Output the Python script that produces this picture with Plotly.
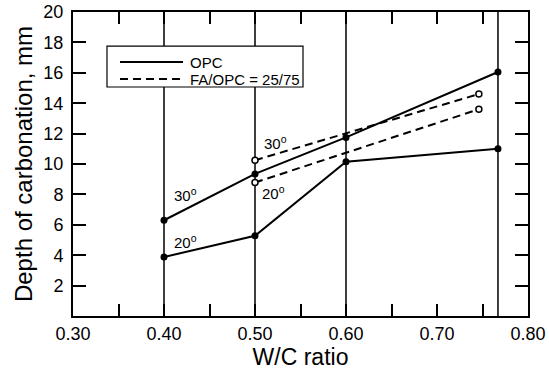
import plotly.graph_objects as go

# Data
wc_opc = [0.40, 0.50, 0.60, 0.767]
opc_30 = [6.3, 9.35, 11.75, 16.05]
opc_20 = [3.88, 5.28, 10.15, 11.0]

wc_fa = [0.50, 0.746]
fa_30 = [10.25, 14.6]
fa_20 = [8.78, 13.6]

drop_x = [0.40, 0.50, 0.60, 0.767]

label_x = [0.424, 0.424, 0.522, 0.520]
label_y = [7.99, 4.88, 11.4, 8.1]
label_text = ["30<sup>o</sup>", "20<sup>o</sup>", "30<sup>o</sup>", "20<sup>o</sup>"]

legend_names = ["OPC", "FA/OPC = 25/75"]
legend_dash = ["solid", "8px,5px"]

y_ticks = [2, 4, 6, 8, 10, 12, 14, 16, 18, 20]

FONT = "Liberation Sans, Arial, Helvetica, sans-serif"
DASH = "8px,5px"

fig = go.Figure()

filled = dict(symbol="circle", size=7, color="black")
opened = dict(symbol="circle", size=6, color="white", line=dict(color="black", width=1.5))

fig.add_trace(go.Scatter(x=wc_opc, y=opc_30, mode="lines+markers", name="OPC 30°",
                         line=dict(color="black", width=2), marker=filled))
fig.add_trace(go.Scatter(x=wc_opc, y=opc_20, mode="lines+markers", name="OPC 20°",
                         line=dict(color="black", width=2), marker=filled))
fig.add_trace(go.Scatter(x=wc_fa, y=fa_30, mode="lines+markers", name="FA/OPC 30°",
                         line=dict(color="black", width=2, dash=DASH), marker=opened))
fig.add_trace(go.Scatter(x=wc_fa, y=fa_20, mode="lines+markers", name="FA/OPC 20°",
                         line=dict(color="black", width=2, dash=DASH), marker=opened))

for xv in drop_x:
    fig.add_shape(type="line", x0=xv, x1=xv, y0=0, y1=1, xref="x", yref="paper",
                  line=dict(color="black", width=1.5), layer="below")

for lx, ly, lt in zip(label_x, label_y, label_text):
    fig.add_annotation(x=lx, y=ly, text=lt, showarrow=False,
                       font=dict(size=15, color="black", family=FONT))

# Legend box (drawn by hand to match the original's proportions)
fig.add_shape(type="rect", xref="paper", yref="paper",
              x0=0.0747, x1=0.5055, y0=0.7533, y1=0.888,
              fillcolor="white", line=dict(color="black", width=1.2), layer="above")
legend_rows = [0.8355, 0.7796]
for name, dash, ry in zip(legend_names, legend_dash, legend_rows):
    fig.add_shape(type="line", xref="paper", yref="paper",
                  x0=0.1033, x1=0.2418, y0=ry, y1=ry,
                  line=dict(color="black", width=2, dash=dash), layer="above")
    fig.add_annotation(xref="paper", yref="paper", x=0.2527, y=ry, text=name,
                       xanchor="left", yanchor="middle", showarrow=False,
                       font=dict(size=15, color="black", family=FONT))

fig.update_layout(
    width=549, height=376,
    margin=dict(l=73, r=21, t=12, b=60, autoexpand=False),
    paper_bgcolor="white", plot_bgcolor="white",
    font=dict(family=FONT, color="black"),
    showlegend=False,
)

fig.update_xaxes(range=[0.30, 0.80], tick0=0.30, dtick=0.1, tickformat=".2f",
                 ticks="inside", ticklen=12, tickwidth=1.5, tickcolor="black",
                 minor=dict(dtick=0.05, ticks="inside", ticklen=12, tickwidth=1.5,
                            tickcolor="black", showgrid=False),
                 showline=True, linecolor="black", linewidth=2, mirror="ticks",
                 showgrid=False, zeroline=False, automargin=False,
                 tickfont=dict(size=18, family=FONT),
                 title=dict(text="W/C ratio", font=dict(size=23, family=FONT), standoff=6))
fig.update_yaxes(range=[0, 20], tickvals=y_ticks,
                 ticks="inside", ticklen=13, tickwidth=1.5, tickcolor="black",
                 showline=True, linecolor="black", linewidth=2, mirror="ticks",
                 showgrid=False, zeroline=False, automargin=False,
                 tickfont=dict(size=18, family=FONT), ticklabelstandoff=4,
                 title=dict(text="Depth of carbonation, mm", font=dict(size=24, family=FONT), standoff=4))

fig.write_html("out.html", config={"displayModeBar": False},
               post_script="document.body.style.margin='0';")
